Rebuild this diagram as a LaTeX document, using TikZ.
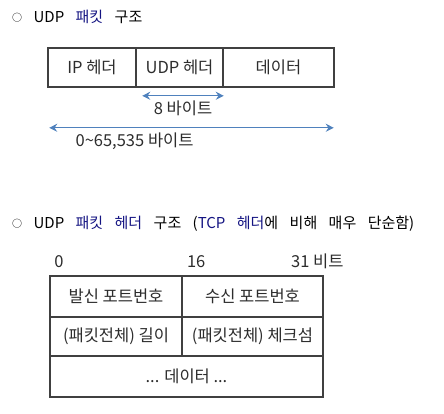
\documentclass[tikz,border=0pt]{standalone}
\usepackage{fontspec}
\setmainfont{Noto Sans CJK KR}
\newfontfamily\titlefont{Noto Sans CJK KR}[WordSpace=3.4]
\usetikzlibrary{arrows.meta,positioning}
\definecolor{hdrblue}{RGB}{20,20,130}
\definecolor{arrowblue}{RGB}{79,129,189}
\definecolor{linegray}{RGB}{64,64,64}
\definecolor{textgray}{RGB}{45,45,45}
\newcommand{\bul}{\raisebox{1pt}{\fontsize{10}{10}\selectfont ○}}

\begin{document}
\begin{tikzpicture}[x=1pt,y=1pt,
  cell/.style={draw=linegray,line width=1.6pt,fill=white,text=textgray,inner sep=0pt,font=\fontsize{16.5}{18}\selectfont},
  ttl/.style={anchor=west,inner sep=0pt,font=\titlefont\fontsize{15}{16}\selectfont},
  lbl/.style={inner sep=0pt,text=textgray,font=\fontsize{16.5}{18}\selectfont},
  span/.style={draw=arrowblue,line width=1.4pt,{Stealth[length=8pt,width=8pt]}-{Stealth[length=8pt,width=8pt]}}]
  \useasboundingbox (0,0) rectangle (444,414);

  \node[ttl] (t1) at (12,397) {\bul{} UDP \textcolor{hdrblue}{패킷} 구조};
  \node[cell,minimum width=88pt,minimum height=39pt] (ip) at (92,346.5) {IP 헤더};
  \node[cell,minimum width=87pt,minimum height=39pt,right of=ip,node distance=87.5pt] (udp) {UDP 헤더};
  \node[cell,minimum width=111pt,minimum height=39pt,right of=udp,node distance=99pt] (data) {데이터};

  \coordinate (a1) at ([xshift=7pt,yshift=-8pt]udp.south west);
  \coordinate (a2) at ([yshift=-8pt]udp.south east);
  \coordinate (b1) at ([xshift=2pt,yshift=-40pt]ip.south west);
  \coordinate (b2) at ([xshift=-1pt,yshift=-40pt]data.south east);
  \draw[span] (a1) -- node[lbl,yshift=-13pt] {8 바이트} (a2);
  \draw[span] (b1) -- node[lbl,pos=0.3,yshift=-13pt] {0\char"007E 65,535 바이트} (b2);

  \node[ttl] (t2) at (12,190) {\bul{} UDP \textcolor{hdrblue}{패킷 헤더} 구조 (\textcolor{hdrblue}{TCP 헤더}에 비해 매우 단순함)};
  \node[cell,minimum width=132pt,minimum height=41pt] (src) at (116,117.5) {발신 포트번호};
  \node[cell,minimum width=141pt,minimum height=41pt,right of=src,node distance=136.5pt] (dst) {수신 포트번호};
  \node[cell,minimum width=132pt,minimum height=39pt,below of=src,node distance=40pt] (len) {(패킷전체) 길이};
  \node[cell,minimum width=141pt,minimum height=39pt,right of=len,node distance=136.5pt] (chk) {(패킷전체) 체크섬};
  \node[cell,minimum width=273pt,minimum height=41pt,below of=len,node distance=40pt,xshift=70.5pt] (pay) {... 데이터 ...};

  \node[lbl,anchor=west] (b0) at ([xshift=5pt,yshift=14pt]src.north west) {0};
  \node[lbl,anchor=west] (b16) at ([xshift=4pt,yshift=14pt]src.north east) {16};
  \node[lbl,anchor=east] (b31) at ([xshift=20pt,yshift=14pt]dst.north east) {31 비트};
\end{tikzpicture}
\end{document}
